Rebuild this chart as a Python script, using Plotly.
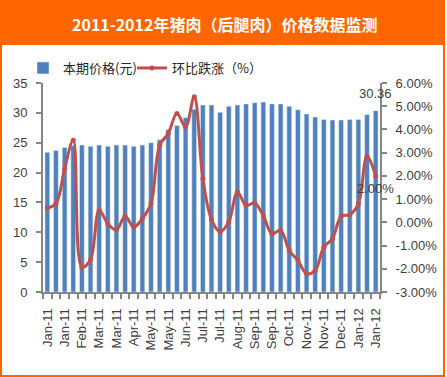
import plotly.graph_objects as go

months = ["Jan-11", "Feb-11", "Mar-11", "Apr-11", "May-11", "Jun-11", "Jul-11",
          "Aug-11", "Sep-11", "Oct-11", "Nov-11", "Dec-11", "Jan-12"]
# dekad (10-day) periods, three per month
periods = [m for m in months for _ in range(3)]

prices = [23.4, 23.7, 24.2, 24.5, 24.6, 24.4, 24.6, 24.4, 24.6, 24.6, 24.4, 24.6,
          25.0, 25.5, 27.2, 27.9, 29.2, 30.6, 31.3, 31.3,
          30.1, 31.1, 31.3, 31.5, 31.7, 31.8, 31.5, 31.5, 31.1, 30.5,
          29.8, 29.3, 28.9, 28.8, 28.8, 28.9, 28.9, 29.7, 30.36]

pct = [0.62, 0.81, 2.3, 3.54, -1.93, -1.60, 0.52, -0.06, -0.32, 0.26, -0.20, 0.16, 0.81,
       3.32, 3.83, 4.69, 4.11, 5.41, 1.89, 0.12,
       -0.40, 0.01, 1.31, 0.73, 0.83, 0.28, -0.49, -0.35, -1.21, -1.64,
       -2.21, -2.07, -1.07, -0.70, 0.26, 0.33, 0.81, 2.85, 2.00]

left_ticks = [0, 5, 10, 15, 20, 25, 30, 35]
right_ticks = [-3, -2, -1, 0, 1, 2, 3, 4, 5, 6]

title_text = "2011-2012年猪肉（后腿肉）价格数据监测"
bar_name = "本期价格(元)"
line_name = "环比跌涨（%）"

W, H = 447, 377
ML, MR, MT, MB = 43, 67, 83, 85
PW, PH = W - ML - MR, H - MT - MB

def px_x(p):
    return (p - ML) / PW

def px_y(p):
    return (H - MB - p) / PH

idx = list(range(len(prices)))
n = len(prices)

fig = go.Figure()
fig.add_trace(go.Bar(
    x=idx, y=prices, name=bar_name, marker_color="#4F81BD",
    width=0.55, yaxis="y", legend="legend",
))
fig.add_trace(go.Scatter(
    x=idx, y=pct, name=line_name, yaxis="y2", mode="lines+markers",
    line=dict(color="#C0504D", width=3, shape="spline", smoothing=1.0),
    marker=dict(color="#C0504D", size=5, symbol="circle"), legend="legend2",
))

axis_color = "#868686"
text_color = "#404040"
legend_font = dict(family="Noto Sans CJK SC, Liberation Sans", size=13, color="#262626")

fig.update_layout(
    width=W, height=H,
    margin=dict(l=ML, r=MR, t=MT, b=MB, pad=0, autoexpand=False),
    paper_bgcolor="white", plot_bgcolor="white",
    font=dict(family="Liberation Sans, Noto Sans CJK SC", size=13, color=text_color),
    showlegend=True,
    legend=dict(orientation="h", x=px_x(23), xanchor="left", y=px_y(68), yanchor="middle",
                font=legend_font, bgcolor="rgba(0,0,0,0)", itemclick=False),
    legend2=dict(orientation="h", x=px_x(132), xanchor="left", y=px_y(68), yanchor="middle",
                 font=legend_font, bgcolor="rgba(0,0,0,0)", itemclick=False),
    bargap=0.45,
    xaxis=dict(
        range=[-0.5, n - 0.5], showgrid=False, zeroline=False,
        showline=True, linecolor=axis_color, linewidth=2,
        tickmode="array", tickvals=idx[::2], ticktext=periods[::2],
        tickangle=-90, ticks="", ticklabelstandoff=9,
        tickfont=dict(size=13, color=text_color),
        minor=dict(tickmode="array", tickvals=[i - 0.5 for i in range(n + 1)],
                   ticks="outside", ticklen=5, tickcolor=axis_color, tickwidth=2),
    ),
    yaxis=dict(
        range=[0, 35], tickvals=left_ticks, showgrid=False, zeroline=False,
        showline=True, linecolor=axis_color, linewidth=2,
        ticks="outside", ticklen=5, tickcolor=axis_color, tickwidth=2,
        ticklabelstandoff=6, tickfont=dict(size=13, color=text_color),
    ),
    yaxis2=dict(
        range=[-3, 6], tickvals=right_ticks, ticktext=[f"{v:.2f}%" for v in right_ticks],
        overlaying="y", side="right", showgrid=False, zeroline=False,
        showline=True, linecolor=axis_color, linewidth=2,
        ticks="outside", ticklen=5, tickcolor=axis_color, tickwidth=2,
        ticklabelstandoff=6, tickfont=dict(size=13, color=text_color),
    ),
    shapes=[
        dict(type="rect", xref="paper", yref="paper", layer="below",
             x0=px_x(0), x1=px_x(445), y0=px_y(377), y1=px_y(0),
             fillcolor="#FF6600", line=dict(width=0)),
        dict(type="rect", xref="paper", yref="paper", layer="below",
             x0=px_x(2), x1=px_x(443), y0=px_y(375), y1=px_y(45),
             fillcolor="white", line=dict(width=0)),
    ],
    annotations=[
        dict(text=f"<b>{title_text}</b>", xref="paper", yref="paper",
             x=px_x(224), y=px_y(24), xanchor="center", yanchor="middle",
             showarrow=False, font=dict(family="Noto Sans CJK SC", size=16, color="white")),
        dict(text=f"{prices[-1]:.2f}", x=idx[-1], y=prices[-1], xref="x", yref="y",
             yshift=17, showarrow=False, font=dict(size=13, color=text_color)),
        dict(text=f"{pct[-1]:.2f}%", x=idx[-1], y=pct[-1], xref="x", yref="y2",
             yshift=-13, showarrow=False, font=dict(size=13, color=text_color)),
    ],
)

fig.write_html("out.html", config={"displayModeBar": False},
               post_script="document.body.style.margin='0px';")
